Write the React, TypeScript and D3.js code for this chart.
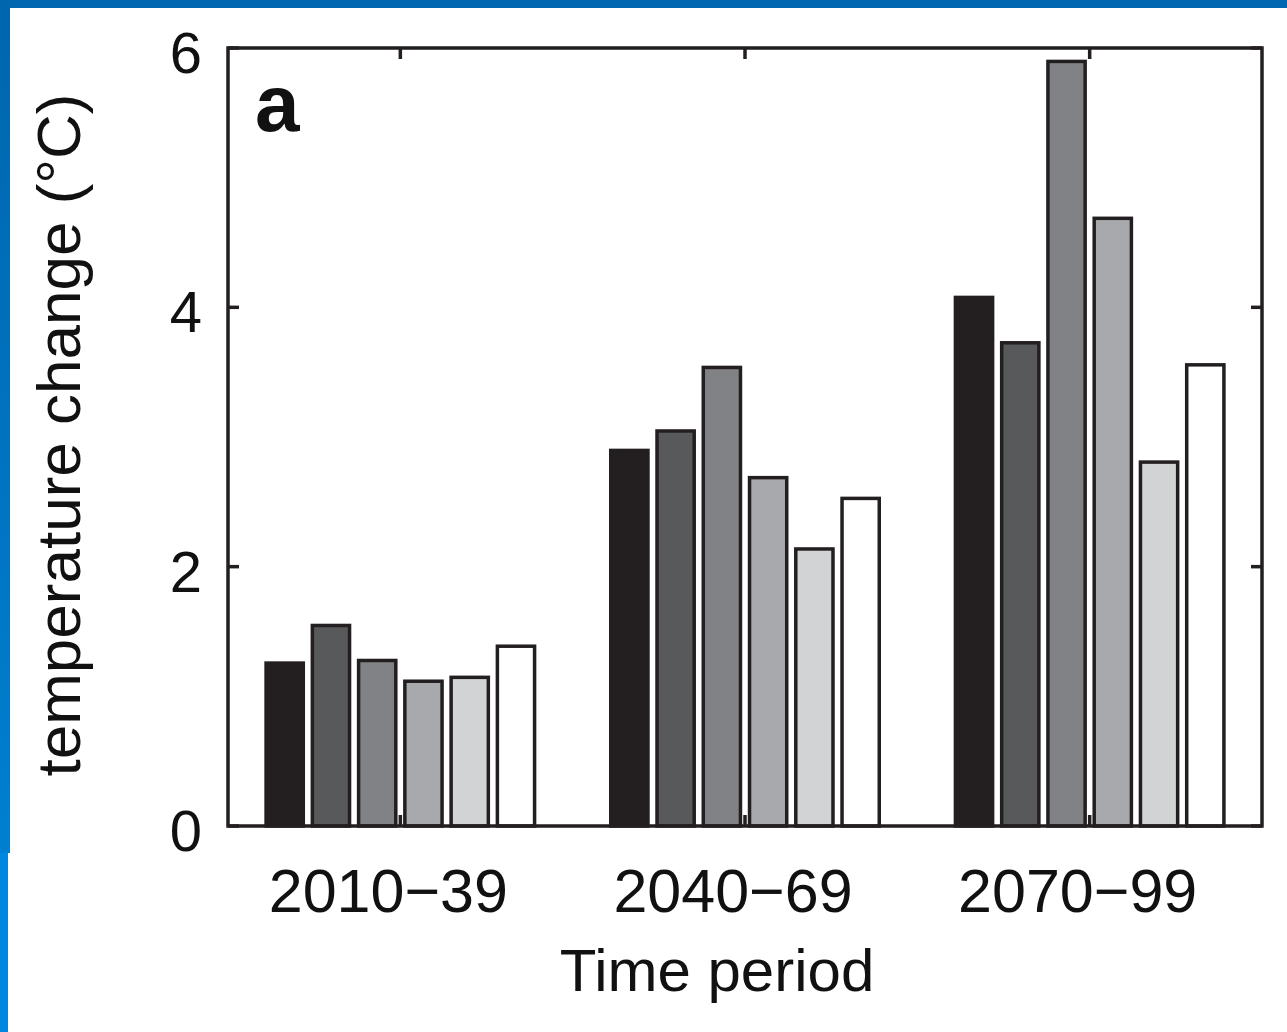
import React from "react";
import * as d3 from "d3";

const categories = ["2010\u221239", "2040\u221269", "2070\u221299"];
const seriesNames = ["s1", "s2", "s3", "s4", "s5", "s6"];
const values: number[][] = [
  [1.27, 1.56, 1.29, 1.13, 1.16, 1.4],
  [2.91, 3.06, 3.55, 2.7, 2.15, 2.54],
  [4.09, 3.74, 5.91, 4.7, 2.82, 3.57],
];
const seriesFills = ["#231f20", "#58595b", "#808285", "#a7a9ac", "#d1d3d4", "#ffffff"];
const yTicks = [0, 2, 4, 6];

const W = 1287;
const H = 1032;
const left = 228, right = 1262, top = 48, bottom = 826;
const ink = "#231f20";
const font = "'Liberation Sans', Arial, Helvetica, sans-serif";

export default function App() {
  const x = d3.scaleBand<string>().domain(categories).range([left, right]).padding(0);
  const y = d3.scaleLinear().domain([0, 6]).range([bottom, top]);
  const groupW = 272;
  const inner = d3
    .scaleBand<string>()
    .domain(seriesNames)
    .range([-groupW / 2, groupW / 2])
    .paddingInner(0.12)
    .paddingOuter(0);
  const sw = 3.5;
  const tickLen = 11;

  return (
    <svg
      width={W}
      height={H}
      style={{ position: "absolute", left: 0, top: 0, background: "#fff" }}
    >
      <defs>
        <linearGradient id="lg" x1="0" y1="0" x2="0" y2="1">
          <stop offset="0" stopColor="#0066ae" />
          <stop offset="1" stopColor="#007fd0" />
        </linearGradient>
      </defs>
      <rect x={0} y={0} width={W} height={H} fill="#fff" />
      <rect x={0} y={0} width={W} height={8} fill="#0067b0" />
      <rect x={0} y={0} width={10} height={853} fill="url(#lg)" />
      <rect x={0} y={853} width={8} height={H - 853} fill="#0088e0" />

      {/* bars */}
      {categories.map((c, ci) => {
        const cx = (x(c) as number) + x.bandwidth() / 2;
        return (
          <g key={c}>
            {seriesNames.map((s, si) => {
              const v = values[ci][si];
              const bx = cx + (inner(s) as number);
              return (
                <rect
                  key={s}
                  x={bx + sw / 2}
                  y={y(v) + sw / 2}
                  width={inner.bandwidth() - sw}
                  height={y(0) - y(v) - sw / 2}
                  fill={seriesFills[si]}
                  stroke={ink}
                  strokeWidth={sw}
                />
              );
            })}
          </g>
        );
      })}

      {/* frame */}
      <rect
        x={left}
        y={top}
        width={right - left}
        height={bottom - top}
        fill="none"
        stroke={ink}
        strokeWidth={sw}
      />
      {yTicks.map((t) => (
        <g key={t}>
          <line x1={left} x2={left + tickLen} y1={y(t)} y2={y(t)} stroke={ink} strokeWidth={sw} />
          <line x1={right} x2={right - tickLen} y1={y(t)} y2={y(t)} stroke={ink} strokeWidth={sw} />
          <text
            x={202}
            y={y(t) + 25}
            textAnchor="end"
            fontFamily={font}
            fontSize={58}
            fill="#111"
          >
            {t}
          </text>
        </g>
      ))}
      {categories.map((c) => {
        const cx = (x(c) as number) + x.bandwidth() / 2;
        return (
          <g key={c}>
            <line x1={cx} x2={cx} y1={top} y2={top + tickLen} stroke={ink} strokeWidth={sw} />
            <line x1={cx} x2={cx} y1={bottom} y2={bottom - tickLen} stroke={ink} strokeWidth={sw} />
            <text
              x={cx - 12}
              y={912}
              textAnchor="middle"
              fontFamily={font}
              fontSize={61}
              fill="#111"
            >
              {c}
            </text>
          </g>
        );
      })}

      <text x={717} y={991} textAnchor="middle" fontFamily={font} fontSize={60} fill="#111">
        Time period
      </text>
      <text
        transform={`translate(80, 435) rotate(-90)`}
        textAnchor="middle"
        fontFamily={font}
        fontSize={62}
        fill="#111"
      >
        temperature change (°C)
      </text>
      <text x={255} y={131} fontFamily={font} fontSize={80} fontWeight="bold" fill="#111">
        a
      </text>
    </svg>
  );
}
